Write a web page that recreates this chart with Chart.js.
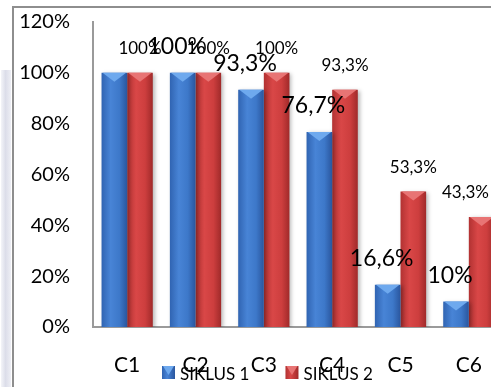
<!DOCTYPE html>
<html>
<head>
<meta charset="utf-8">
<script src="https://cdn.jsdelivr.net/npm/chart.js@4/dist/chart.umd.min.js"></script>
<style>
  html, body { margin: 0; padding: 0; background: #fff; overflow: hidden; }
  #wrap { position: relative; width: 491px; height: 387px; overflow: hidden; }
  #chart { position: absolute; left: 0; top: 0; }
  #frame { position: absolute; left: 12px; top: 6px; width: 600px; height: 500px;
           border-left: 2px solid #8e8e8e; border-top: 2px solid #8e8e8e; pointer-events: none; }
  #band { position: absolute; left: 1px; top: 70px; width: 10px; height: 320px;
          background: linear-gradient(to right, #f1f2f7, #d3d5e4 45%, #e9eaf2); opacity: 0.8; }
</style>
</head>
<body>
<div id="wrap">
  <div id="band"></div>
  <canvas id="chart" width="520" height="387"></canvas>
  <div id="frame"></div>
</div>
<script>
const categories = ['C1', 'C2', 'C3', 'C4', 'C5', 'C6'];
const siklus1 = [100, 100, 93.3, 76.7, 16.6, 10];
const siklus2 = [100, 100, 100, 93.3, 53.3, 43.3];
const yTickLabels = ['0%', '20%', '40%', '60%', '80%', '100%', '120%'];

const FONT = 'Lato, "Open Sans", sans-serif';

const palette = {
  blue: { stops: ['#3064b2', '#4884d6', '#3d78c9', '#2a569e'], light: '#6ea9ee' },
  red:  { stops: ['#b23232', '#d94747', '#cd3e3e', '#a02a2a'], light: '#e87474' }
};

function fmtPercent(v) {
  return (Number.isInteger(v) ? String(v) : v.toFixed(1).replace('.', ',')) + '%';
}

// horizontal cylinder-like shading for each bar
function barGradient(p, seriesIndex) {
  return (ctx) => {
    const chart = ctx.chart;
    const xs = chart.scales.x;
    if (!xs || !chart.chartArea || ctx.dataIndex === undefined) return p.stops[1];
    const center = xs.getPixelForValue(ctx.dataIndex);
    const catW = xs.width / categories.length;
    const barW = catW * 0.75 / 2;
    const left = seriesIndex === 0 ? center - barW : center;
    const g = chart.ctx.createLinearGradient(left, 0, left + barW, 0);
    g.addColorStop(0, p.stops[0]);
    g.addColorStop(0.35, p.stops[1]);
    g.addColorStop(0.7, p.stops[2]);
    g.addColorStop(1, p.stops[3]);
    return g;
  };
}

function drawBevel(ctx, x, top, width, color) {
  const l = x - width / 2, r = x + width / 2;
  ctx.fillStyle = color;
  ctx.beginPath();
  ctx.moveTo(l + 1, top);
  ctx.lineTo(r - 1, top);
  ctx.lineTo(x, top + 9);
  ctx.closePath();
  ctx.fill();
}

const barDecor = {
  id: 'barDecor',
  beforeDatasetsDraw(chart) {
    const ctx = chart.ctx;
    ctx.save();
    ctx.shadowColor = 'rgba(0,0,0,0.28)';
    ctx.shadowBlur = 4;
    ctx.shadowOffsetX = 2;
    ctx.shadowOffsetY = 1;
  },
  afterDatasetsDraw(chart, args, opts) {
    const ctx = chart.ctx;
    ctx.restore();
    const lights = [palette.blue.light, palette.red.light];
    chart.data.datasets.forEach((ds, di) => {
      chart.getDatasetMeta(di).data.forEach((bar) => {
        drawBevel(ctx, bar.x, bar.y, bar.width, lights[di]);
      });
    });
    // value labels above bars
    chart.data.datasets.forEach((ds, di) => {
      const st = opts.labels[di];
      chart.getDatasetMeta(di).data.forEach((bar, i) => {
        if (st.skip.includes(i)) return;
        const text = fmtPercent(ds.data[i]);
        ctx.save();
        ctx.font = st.size + 'px ' + FONT;
        ctx.fillStyle = '#000';
        ctx.textAlign = 'center';
        ctx.textBaseline = 'alphabetic';
        const w = ctx.measureText(text).width;
        let x = bar.x + st.dx;
        x = Math.min(x, opts.maxRight - w / 2);
        ctx.fillText(text, x, bar.y - st.rise);
        ctx.restore();
      });
    });
  }
};

const legendDraw = {
  id: 'legendDraw',
  afterDraw(chart, args, opts) {
    const ctx = chart.ctx;
    const items = chart.data.datasets.map((ds, i) => ({ text: ds.label, p: i === 0 ? palette.blue : palette.red }));
    let x = opts.x;
    const top = opts.y;
    const s = 13;
    items.forEach((it) => {
      const g = ctx.createLinearGradient(x, 0, x + s, 0);
      g.addColorStop(0, it.p.stops[0]);
      g.addColorStop(0.4, it.p.stops[1]);
      g.addColorStop(1, it.p.stops[3]);
      ctx.fillStyle = g;
      ctx.fillRect(x, top, s, s);
      drawBevel(ctx, x + s / 2, top, s, it.p.light);
      ctx.font = '17px ' + FONT;
      ctx.fillStyle = '#000';
      ctx.textAlign = 'left';
      ctx.textBaseline = 'alphabetic';
      ctx.fillText(it.text, x + s + 5, top + s + 1);
      x += s + 5 + ctx.measureText(it.text).width + opts.gap;
    });
  }
};

new Chart(document.getElementById('chart'), {
  type: 'bar',
  data: {
    labels: categories,
    datasets: [
      { label: 'SIKLUS 1', data: siklus1, backgroundColor: barGradient(palette.blue, 0), borderWidth: 0 },
      { label: 'SIKLUS 2', data: siklus2, backgroundColor: barGradient(palette.red, 1), borderWidth: 0 }
    ]
  },
  options: {
    responsive: false,
    animation: false,
    devicePixelRatio: 1,
    layout: { padding: { top: 22, right: 17, left: 0, bottom: 0 } },
    datasets: { bar: { categoryPercentage: 0.75, barPercentage: 1 } },
    scales: {
      x: {
        grid: { display: false, drawTicks: false },
        border: { display: true, color: '#9a9a9a', width: 2 },
        ticks: { color: '#000', font: { family: FONT, size: 21 }, padding: 26, maxRotation: 0 },
        afterFit: (s) => { s.height = 60; }
      },
      y: {
        min: 0, max: 120,
        grid: { display: false, drawTicks: false },
        border: { display: true, color: '#9a9a9a', width: 2 },
        ticks: {
          stepSize: 20,
          color: '#000',
          font: { family: FONT, size: 20 },
          padding: 23,
          callback: (v) => yTickLabels[Math.round(v / 20)]
        },
        afterFit: (s) => { s.width = 93; s.paddingTop = 10; s.paddingBottom = 10; }
      }
    },
    plugins: {
      legend: { display: false },
      tooltip: { enabled: false },
      barDecor: {
        maxRight: 489,
        labels: [
          { size: 23, dx: -6, rise: 19, skip: [0] },
          { size: 17, dx: 0, rise: 19, skip: [] }
        ]
      },
      legendDraw: { x: 162, y: 366, gap: 36 }
    }
  },
  plugins: [barDecor, legendDraw]
});
</script>
</body>
</html>
